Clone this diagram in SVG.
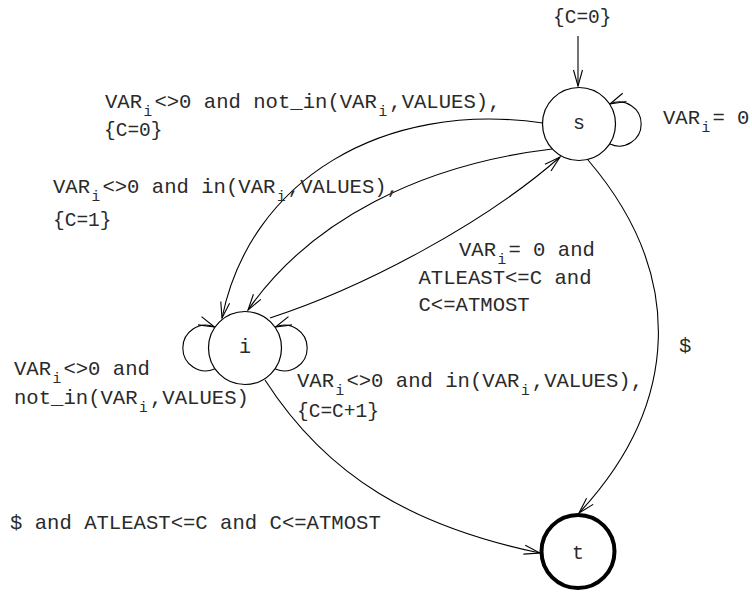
<svg xmlns="http://www.w3.org/2000/svg" width="752" height="592" viewBox="0 0 752 592">
<style>
text{font-family:"Liberation Mono","DejaVu Sans Mono",monospace;fill:#2a2a2a}
.l{font-size:20.6px}
.b{font-size:19.5px}
.s{font-size:14.5px}
.n{font-size:20px}
.e{fill:none;stroke:#000;stroke-width:1.1}
.c{fill:#fff;stroke:#000;stroke-width:1.2}
</style>
<defs>
<marker id="a" markerUnits="userSpaceOnUse" markerWidth="24" markerHeight="16" refX="0" refY="0" viewBox="-20 -8 24 16" orient="auto" overflow="visible">
<path d="M-16,-4.5 L0,0 L-16,4.5" fill="none" stroke="#000" stroke-width="1.1"/>
</marker>
</defs>
<rect width="752" height="592" fill="#fff"/>
<g id="edges">
<path class="e" d="M578,36 L578,86" marker-end="url(#a)"/>
<path class="e" d="M543,123 C383,100 250,180 222,318" marker-end="url(#a)"/>
<path class="e" d="M552,149 C422,164.6 310.7,219.8 248,310" marker-end="url(#a)"/>
<path class="e" d="M270,318 C365,287 485,223 560,157" marker-end="url(#a)"/>
<path class="e" d="M588,160 C685.5,274 681,403.5 579,513" marker-end="url(#a)"/>
<path class="e" d="M265,380 C328,478 415,527 540,553" marker-end="url(#a)"/>
<path class="e" d="M610,144 A22,22 0 1 0 610,104" marker-end="url(#a)"/>
<path class="e" d="M214.5,369 A22.8,22.8 0 1 1 214.5,327" marker-end="url(#a)"/>
<path class="e" d="M275.5,369 A22.8,22.8 0 1 0 275.5,327" marker-end="url(#a)"/>
</g>
<g id="node-s">
<circle class="c" cx="579" cy="124" r="36.5"/>
<text class="n" x="579" y="129" text-anchor="middle">s</text>
</g>
<g id="node-i">
<circle class="c" cx="245" cy="348" r="36.5"/>
<text class="n" x="245" y="353" text-anchor="middle">i</text>
</g>
<g id="node-t">
<circle cx="578" cy="551.5" r="36.5" fill="#fff" stroke="#000" stroke-width="4"/>
<text class="n" x="578" y="559" text-anchor="middle">t</text>
</g>
<g id="labels">
<text class="b" x="553" y="23">{C=0}</text>

<text class="l" x="105" y="108">VAR</text>
<text class="s" x="143.6" y="116">i</text>
<text class="l" x="154.4" y="108">&lt;&gt;0 and not_in(VAR</text>
<text class="s" x="378.4" y="116">i</text>
<text class="l" x="389.3" y="108">,VALUES),</text>
<text class="b" x="104" y="136">{C=0}</text>

<text class="l" x="53" y="193">VAR</text>
<text class="s" x="91.6" y="201">i</text>
<text class="l" x="102.4" y="193">&lt;&gt;0 and in(VAR</text>
<text class="s" x="277" y="201">i</text>
<text class="l" x="287.8" y="193">,VALUES),</text>
<text class="b" x="53" y="226">{C=1}</text>

<text class="l" x="663" y="124">VAR</text>
<text class="s" x="701.6" y="132">i</text>
<text class="l" x="712.4" y="124">= 0</text>

<text class="l" x="459" y="256">VAR</text>
<text class="s" x="497.6" y="264">i</text>
<text class="l" x="508.4" y="256">= 0 and</text>
<text class="l" x="418.5" y="284">ATLEAST&lt;=C and</text>
<text class="l" x="418.5" y="311">C&lt;=ATMOST</text>

<text class="l" x="679" y="352">$</text>

<text class="l" x="14" y="375">VAR</text>
<text class="s" x="52.6" y="383">i</text>
<text class="l" x="63.4" y="375">&lt;&gt;0 and</text>
<text class="l" x="14" y="404">not_in(VAR</text>
<text class="s" x="139.1" y="412">i</text>
<text class="l" x="150" y="404">,VALUES)</text>

<text class="l" x="297" y="387">VAR</text>
<text class="s" x="335.6" y="395">i</text>
<text class="l" x="346.4" y="387">&lt;&gt;0 and in(VAR</text>
<text class="s" x="521" y="395">i</text>
<text class="l" x="531.8" y="387">,VALUES),</text>
<text class="b" x="297" y="417">{C=C+1}</text>

<text class="l" x="10" y="529">$ and ATLEAST&lt;=C and C&lt;=ATMOST</text>
</g>
</svg>
